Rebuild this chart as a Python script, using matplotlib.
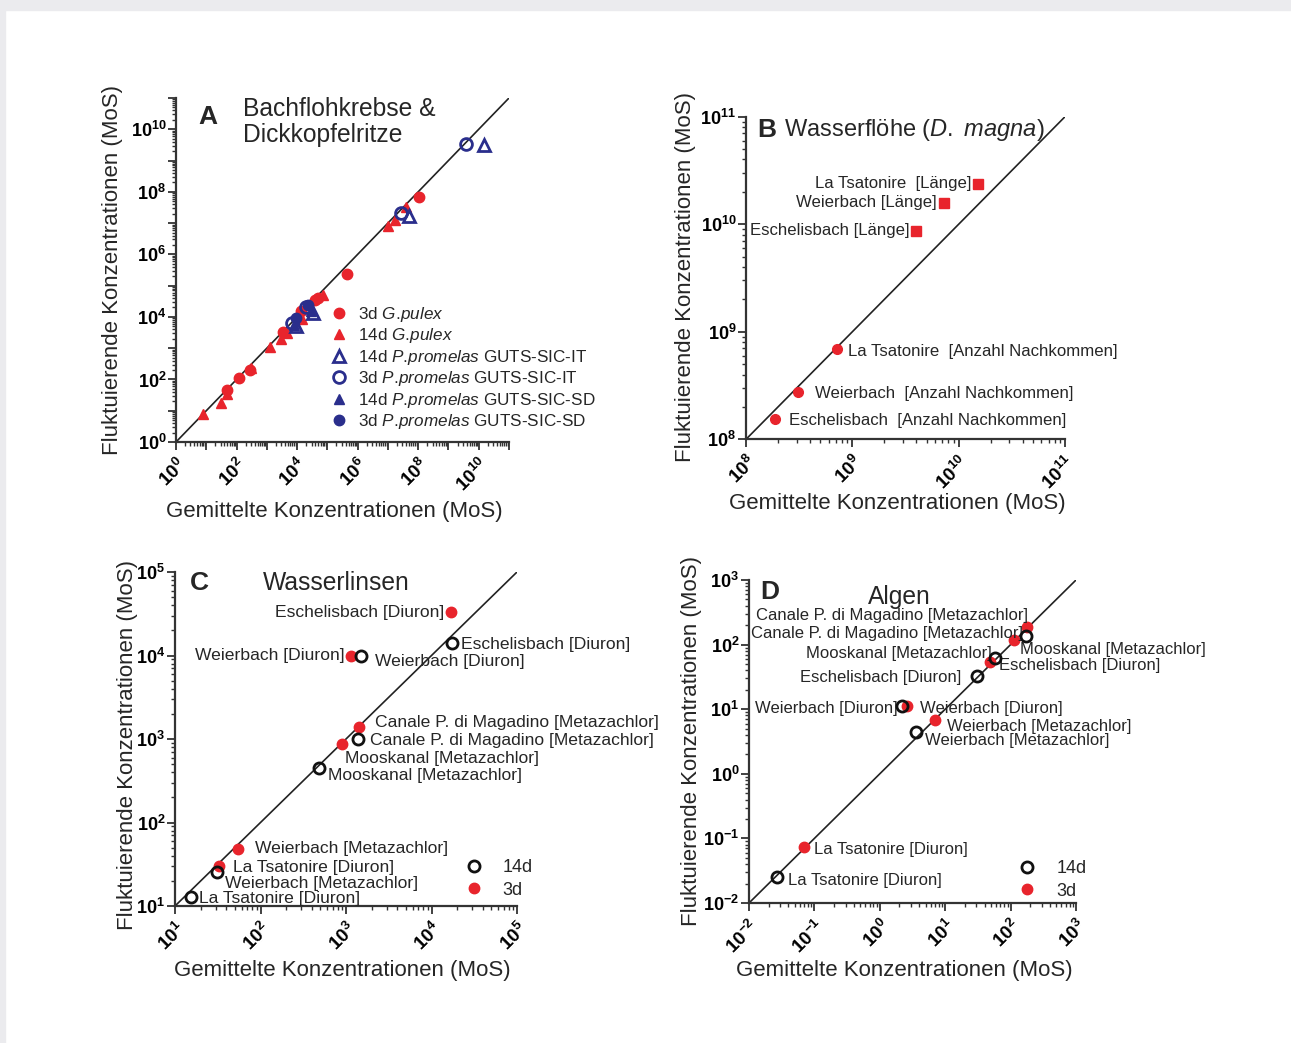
import matplotlib
matplotlib.use("Agg")
import matplotlib.pyplot as plt
import matplotlib.ticker as ticker
import numpy as np

plt.rcParams['font.family'] = ['Liberation Sans', 'DejaVu Sans']
plt.rcParams['mathtext.fontset'] = 'custom'
plt.rcParams['mathtext.rm'] = 'Liberation Sans'
plt.rcParams['mathtext.it'] = 'Liberation Sans:italic'
plt.rcParams['mathtext.bf'] = 'Liberation Sans:bold'

W, H = 1291, 1043
RED = '#e8242c'
BLUE = '#2a2e8c'
TXT = '#262626'

# ---- Panel A: Bachflohkrebse & Dickkopfelritze
a_g3_x = [47, 117, 275, 3.3e3, 1.3e4, 3.9e4, 5.0e4, 4.3e5, 1.05e8]
a_g3_y = [45, 112, 200, 3.3e3, 1.55e4, 3.5e4, 4.1e4, 2.4e5, 6.8e7]
a_g14_x = [7.9, 30, 49, 290, 1.26e3, 3.0e3, 4.5e3, 1.5e4, 7.2e4, 9.8e6, 1.7e7, 3.9e7]
a_g14_y = [7.6, 18, 35, 240, 1.1e3, 1.9e3, 3.0e3, 8.3e3, 5.0e4, 7.9e6, 1.3e7, 3.2e7]
a_p14it_x = [9.1e3, 3.4e4, 5.0e7, 1.5e10]
a_p14it_y = [5.1e3, 1.35e4, 1.66e7, 3.1e9]
a_p3it_x = [6.6e3, 1.95e4, 2.7e7, 3.9e9]
a_p3it_y = [6.6e3, 2.0e4, 2.1e7, 3.3e9]
a_p14sd_x = [8.0e3, 2.8e4]
a_p14sd_y = [5.6e3, 1.6e4]
a_p3sd_x = [9.5e3, 2.35e4]
a_p3sd_y = [9.3e3, 2.4e4]

# ---- Panel B: Wasserflöhe
b_len_names = ['La Tsatonire  [Länge]', 'Weierbach [Länge]', 'Eschelisbach [Länge]']
b_len_x = [1.53e10, 7.3e9, 4.0e9]
b_len_y = [2.35e10, 1.56e10, 8.6e9]
b_off_names = ['La Tsatonire  [Anzahl Nachkommen]', 'Weierbach  [Anzahl Nachkommen]',
               'Eschelisbach  [Anzahl Nachkommen]']
b_off_x = [7.2e8, 3.06e8, 1.87e8]
b_off_y = [6.9e8, 2.74e8, 1.53e8]

# ---- Panel C: Wasserlinsen
c_names = ['Eschelisbach [Diuron]', 'Weierbach [Diuron]', 'Canale P. di Magadino [Metazachlor]',
           'Mooskanal [Metazachlor]', 'Weierbach [Metazachlor]', 'La Tsatonire [Diuron]']
c3_x = [1.70e4, 1.14e3, 1.42e3, 8.9e2, 54, 33]
c3_y = [3.3e4, 9.9e3, 1.39e3, 8.7e2, 48, 30]
c14_x = [1.74e4, 1.5e3, 1.38e3, 4.8e2, 31, 15.4]
c14_y = [1.41e4, 9.9e3, 1.0e3, 4.5e2, 25.5, 12.8]

# ---- Panel D: Algen
d_names = ['Canale P. di Magadino [Metazachlor]', 'Mooskanal [Metazachlor]', 'Eschelisbach [Diuron]',
           'Weierbach [Diuron]', 'Weierbach [Metazachlor]', 'La Tsatonire [Diuron]']
d3_x = [178, 114, 47.6, 2.58, 6.93, 0.0695]
d3_y = [187, 119, 53.7, 11.2, 6.92, 0.0731]
d14_x = [174, 57.7, 30.6, 2.19, 3.64, 0.0268]
d14_y = [138, 62.5, 32.2, 11.2, 4.46, 0.0252]

fig = plt.figure(figsize=(W / 100, H / 100), dpi=100)
fig.patch.set_facecolor('white')
# grey page margin at top and left
fig.add_artist(plt.Rectangle((0, 1 - 10 / H), 1, 10 / H, transform=fig.transFigure,
                             color='#ebebee', zorder=0))
fig.add_artist(plt.Rectangle((0, 0), 5 / W, 1, transform=fig.transFigure,
                             color='#ebebee', zorder=0))


def fmt_label(step):
    def f(v, pos):
        e = int(round(np.log10(v)))
        if e % step:
            return ''
        return r'$\mathbf{10^{%d}}$' % e
    return f


def setup(ax, lo, hi, step=1, ylab_x=-0.19, ylab_y=0.5, xlab_x=0.5, xlab_y=-0.19):
    ax.set_xscale('log')
    ax.set_yscale('log')
    ax.set_xlim(10.0 ** lo, 10.0 ** hi)
    ax.set_ylim(10.0 ** lo, 10.0 ** hi)
    for s in ['top', 'right']:
        ax.spines[s].set_visible(False)
    for s in ['left', 'bottom']:
        ax.spines[s].set_linewidth(1.6)
        ax.spines[s].set_color('#333333')
    for axis in [ax.xaxis, ax.yaxis]:
        axis.set_major_locator(ticker.FixedLocator(10.0 ** np.arange(lo, hi + 1)))
        axis.set_minor_locator(ticker.LogLocator(base=10, subs=np.arange(2, 10), numticks=50))
        axis.set_major_formatter(ticker.FuncFormatter(fmt_label(step)))
        axis.set_minor_formatter(ticker.NullFormatter())
    ax.tick_params(which='major', length=6, width=1.3, color='#333333', labelsize=13.5)
    ax.tick_params(which='minor', length=3, width=1.0, color='#333333')
    ax.tick_params(axis='y', pad=1, labelsize=13)
    for lab in ax.get_xticklabels():
        lab.set_rotation(45)
        lab.set_ha('right')
        lab.set_va('top')
        lab.set_rotation_mode('anchor')
    ax.plot([10.0 ** lo, 10.0 ** hi], [10.0 ** lo, 10.0 ** hi], color='#222222', lw=1.2, zorder=1)
    ax.set_xlabel('Gemittelte Konzentrationen (MoS)', fontsize=16, color=TXT)
    ax.set_ylabel('Fluktuierende Konzentrationen (MoS)', fontsize=16, color=TXT)
    ax.yaxis.set_label_coords(ylab_x, ylab_y)
    ax.xaxis.set_label_coords(xlab_x, xlab_y)
    ax.patch.set_alpha(0)


def fax(l, t, r, b):
    return fig.add_axes([l / W, 1 - b / H, (r - l) / W, (b - t) / H])


def ftext(x, y, s, **kw):
    fig.text(x / W, 1 - y / H, s, va='center', color=TXT, **kw)


def labels(ax, names, xs, ys, offs, size):
    for n, x, y, (dx, dy, ha) in zip(names, xs, ys, offs):
        ax.annotate(n, (x, y), xytext=(dx, dy), textcoords='offset pixels', ha=ha, va='center',
                    fontsize=size, color=TXT)


# ---------------- Panel A
axA = fax(176, 98, 509, 442)
setup(axA, 0, 11, step=2, ylab_x=-0.159, xlab_x=0.474, xlab_y=-0.1715)
axA.plot(a_g3_x, a_g3_y, 'o', color=RED, ms=7.5, ls='none', label=r'3d $\mathit{G.\!pulex}$', zorder=3)
axA.plot(a_g14_x, a_g14_y, '^', color=RED, ms=7.5, ls='none', label=r'14d $\mathit{G.\!pulex}$', zorder=3)
axA.plot(a_p14it_x, a_p14it_y, '^', mfc='none', mec=BLUE, mew=2, ms=8.5, ls='none',
         label=r'14d $\mathit{P.\!promelas}$ GUTS-SIC-IT', zorder=4)
axA.plot(a_p3it_x, a_p3it_y, 'o', mfc='none', mec=BLUE, mew=2, ms=8.5, ls='none',
         label=r'3d $\mathit{P.\!promelas}$ GUTS-SIC-IT', zorder=4)
axA.plot(a_p14sd_x, a_p14sd_y, '^', color=BLUE, ms=7, ls='none',
         label=r'14d $\mathit{P.\!promelas}$ GUTS-SIC-SD', zorder=3)
axA.plot(a_p3sd_x, a_p3sd_y, 'o', color=BLUE, ms=7.5, ls='none',
         label=r'3d $\mathit{P.\!promelas}$ GUTS-SIC-SD', zorder=3)
leg = axA.legend(loc='lower left', bbox_to_anchor=(0.43, 0.012), frameon=False, fontsize=12.3,
                 handletextpad=0.4, labelspacing=0.14, borderaxespad=0, handlelength=1.5)
for t in leg.get_texts():
    t.set_color(TXT)
ftext(198, 117, 'A', fontsize=19, fontweight='bold')
ftext(243, 122, 'Bachflohkrebse &\nDickkopfelritze', fontsize=17.7, linespacing=1.12)

# ---------------- Panel B
axB = fax(746, 116.7, 1065, 439.3)
setup(axB, 8, 11, ylab_x=-0.157, ylab_y=0.503, xlab_x=0.473, xlab_y=-0.1665)
axB.plot(b_len_x, b_len_y, 's', color=RED, ms=7, ls='none', zorder=3)
axB.plot(b_off_x, b_off_y, 'o', color=RED, ms=7, ls='none', zorder=3)
labels(axB, b_len_names, b_len_x, b_len_y, [(-7, 1, 'right')] * 3, 12.1)
labels(axB, b_off_names, b_off_x, b_off_y, [(11, -2, 'left'), (17, -1, 'left'), (14, -1, 'left')], 12.1)
ftext(757, 130, 'B', fontsize=19, fontweight='bold')
ftext(784, 130, r'Wasserflöhe ($\mathit{D.}$ $\mathit{magna}$)', fontsize=17)

# ---------------- Panel C
axC = fax(175, 572, 517, 906)
setup(axC, 1, 5, ylab_x=-0.108, ylab_y=0.482, xlab_x=0.488, xlab_y=-0.162)
axC.plot(c3_x, c3_y, 'o', color=RED, ms=7.5, ls='none', zorder=3)
axC.plot(c14_x, c14_y, 'o', mfc='none', mec='#111111', mew=2, ms=8, ls='none', zorder=4)
labels(axC, c_names, c3_x, c3_y,
       [(-7, 0, 'right'), (-6, 0, 'right'), (16, 5, 'left'), (3, -14, 'left'),
        (17, 1, 'left'), (14, -1, 'left')], 12.6)
labels(axC, c_names, c14_x, c14_y,
       [(9, -1, 'left'), (14, -6, 'left'), (12, -1, 'left'), (9, -8, 'left'),
        (8, -11, 'left'), (8, -1, 'left')], 12.6)
ftext(190, 583, 'C', fontsize=19, fontweight='bold')
ftext(263, 583, 'Wasserlinsen', fontsize=17.7)

# ---------------- Panel D
axD = fax(749, 580, 1076, 903)
setup(axD, -2, 3, ylab_x=-0.144, ylab_y=0.50, xlab_x=0.474, xlab_y=-0.176)
axD.plot(d3_x, d3_y, 'o', color=RED, ms=7.5, ls='none', zorder=3)
axD.plot(d14_x, d14_y, 'o', mfc='none', mec='#111111', mew=2, ms=8, ls='none', zorder=4)
labels(axD, d_names, d3_x, d3_y,
       [(1, 12, 'right'), (6, -10, 'left'), (9, -3, 'left'), (13, -2, 'left'),
        (12, -7, 'left'), (10, -2, 'left')], 12.0)
labels(axD, d_names, d14_x, d14_y,
       [(-3, 2, 'right'), (-3, 4, 'right'), (-16, -1, 'right'), (-4, -2, 'right'),
        (9, -9, 'left'), (11, -3, 'left')], 12.0)
ftext(760, 592, 'D', fontsize=19, fontweight='bold')
ftext(868, 597, 'Algen', fontsize=17.7)

# legends for C and D
for ax, lx, ly in [(axC, 0.80, 0.0), (axD, 0.774, -0.012)]:
    h1, = ax.plot([], [], 'o', mfc='none', mec='#111111', mew=2, ms=8, ls='none', label='14d')
    h2, = ax.plot([], [], 'o', color=RED, ms=7.5, ls='none', label='3d')
    lg = ax.legend(handles=[h1, h2], loc='lower left', bbox_to_anchor=(lx, ly), frameon=False,
                   fontsize=13, handletextpad=0.6, labelspacing=0.3, borderaxespad=0)
    for t in lg.get_texts():
        t.set_color(TXT)

fig.savefig('out.png', dpi=100)
